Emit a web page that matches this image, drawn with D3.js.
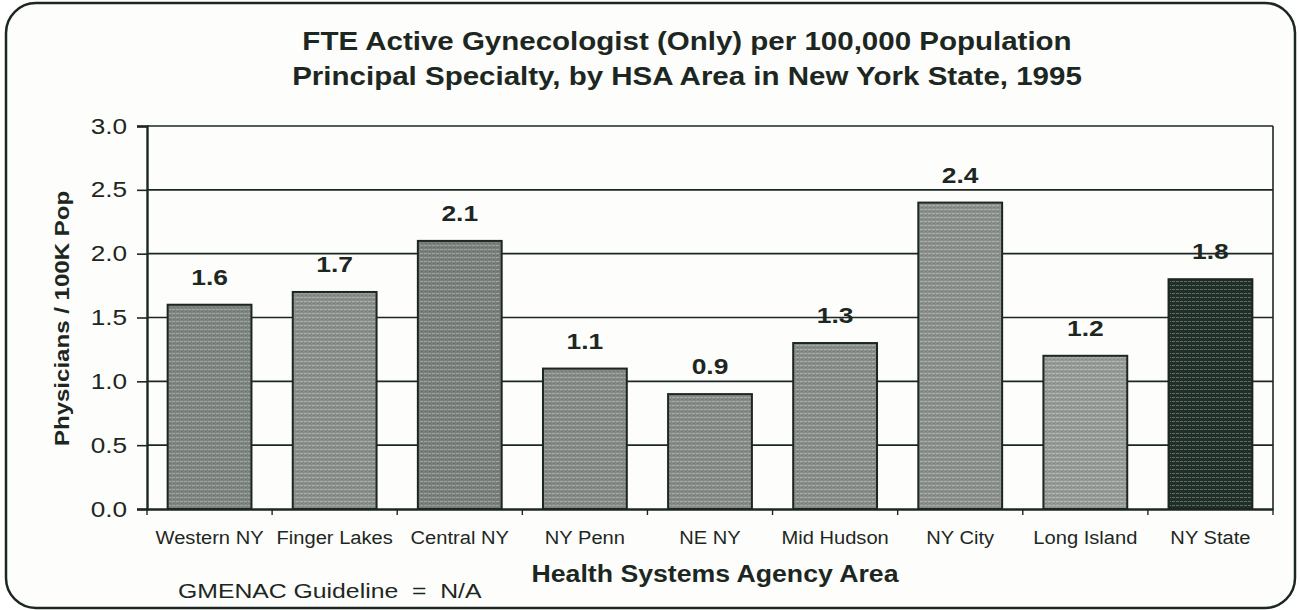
<!DOCTYPE html>
<html>
<head>
<meta charset="utf-8">
<script src="https://cdn.jsdelivr.net/npm/d3@7/dist/d3.min.js"></script>
<style>
  html, body { margin: 0; padding: 0; background: #ffffff; }
  svg { display: block; font-family: "Liberation Sans", Arial, Helvetica, sans-serif; }
</style>
</head>
<body>
<svg id="chart" width="1300" height="610"></svg>
<script>
// HSA areas and FTE gynecologists per 100,000 population
const categories = ["Western NY", "Finger Lakes", "Central NY", "NY Penn", "NE NY",
                    "Mid Hudson", "NY City", "Long Island", "NY State"];
const values = [1.6, 1.7, 2.1, 1.1, 0.9, 1.3, 2.4, 1.2, 1.8];
const valueLabels = ["1.6", "1.7", "2.1", "1.1", "0.9", "1.3", "2.4", "1.2", "1.8"];
const yTicks = [0, 0.5, 1.0, 1.5, 2.0, 2.5, 3.0];

const titleLines = ["FTE Active Gynecologist (Only) per 100,000 Population",
                    "Principal Specialty, by HSA Area in New York State, 1995"];
const yTitle = "Physicians / 100K Pop";
const xTitle = "Health Systems Agency Area";
const footnote = "GMENAC Guideline  =  N/A";

// styling
const ink = "#1d2722";
const barFills = ["#7f8581", "#8a8f8c", "#7a807c", "#858a87", "#868b88",
                  "#888d8a", "#8b908d", "#979b98", "#22302a"];

// stretch glyphs horizontally about each label's anchor point (wide typeface)
function widen(sel, k) {
  sel.each(function () {
    const t = d3.select(this);
    const ax = +t.attr("x") || 0, ay = +t.attr("y") || 0;
    t.attr("transform", `translate(${ax},${ay}) scale(${k},1) translate(${-ax},${-ay})`);
  });
}

const svg = d3.select("#chart");
const W = 1300, H = 610;
const m = { left: 147, right: 27, top: 126, bottom: 101 };

// outer rounded frame
svg.append("rect")
  .attr("x", 6).attr("y", 3).attr("width", W - 11).attr("height", H - 5)
  .attr("rx", 30).attr("ry", 30)
  .attr("fill", "#fdfdfc").attr("stroke", ink).attr("stroke-width", 2.5);

// bar texture: light horizontal dotted rows over a grey fill
const defs = svg.append("defs");
const pat = defs.append("pattern")
  .attr("id", "texture").attr("patternUnits", "userSpaceOnUse")
  .attr("width", 4).attr("height", 4);
pat.append("rect").attr("x", 0).attr("y", 1).attr("width", 3).attr("height", 1)
  .attr("fill", "#ffffff").attr("opacity", 0.28);
pat.append("rect").attr("x", 1).attr("y", 3).attr("width", 2).attr("height", 1)
  .attr("fill", "#000000").attr("opacity", 0.12);

const x = d3.scaleBand().domain(categories)
  .range([m.left, W - m.right]).paddingInner(0.33).paddingOuter(0.165);
const y = d3.scaleLinear().domain([0, 3]).range([H - m.bottom, m.top]);

// title
const title = svg.append("g").selectAll("text").data(titleLines).join("text")
  .attr("x", 687).attr("y", (d, i) => 50 + i * 35)
  .attr("text-anchor", "middle")
  .attr("font-weight", "bold").attr("font-size", 26).attr("fill", ink)
  .text(d => d);
widen(title, 1.135);

// horizontal gridlines
svg.append("g").selectAll("line").data(yTicks.filter(t => t > 0)).join("line")
  .attr("x1", m.left).attr("x2", W - m.right)
  .attr("y1", d => y(d)).attr("y2", d => y(d))
  .attr("stroke", ink).attr("stroke-width", 1.6);

// right border of plot
svg.append("line")
  .attr("x1", W - m.right).attr("x2", W - m.right)
  .attr("y1", y(3)).attr("y2", y(0))
  .attr("stroke", ink).attr("stroke-width", 1.6);

// y axis
const yAxis = d3.axisLeft(y).tickValues(yTicks).tickFormat(d3.format(".1f"))
  .tickSize(10).tickPadding(10);
const gy = svg.append("g").attr("transform", `translate(${m.left},0)`).call(yAxis);
gy.select(".domain").attr("stroke", ink).attr("stroke-width", 2.4);
gy.selectAll(".tick line").attr("stroke", ink).attr("stroke-width", 1.6);
gy.selectAll(".tick text").attr("font-size", 22).attr("fill", ink)
  .attr("font-family", "Liberation Sans, Arial, sans-serif");
widen(gy.selectAll(".tick text"), 1.19);

// bars
const bars = svg.append("g");
bars.selectAll("rect.bar").data(values).join("rect").attr("class", "bar")
  .attr("x", (d, i) => x(categories[i])).attr("width", x.bandwidth())
  .attr("y", d => y(d)).attr("height", d => y(0) - y(d))
  .attr("fill", (d, i) => barFills[i])
  .attr("stroke", ink).attr("stroke-width", 2);
bars.selectAll("rect.tex").data(values).join("rect").attr("class", "tex")
  .attr("x", (d, i) => x(categories[i]) + 1.5).attr("width", x.bandwidth() - 3)
  .attr("y", d => y(d) + 1.5).attr("height", d => y(0) - y(d) - 3)
  .attr("fill", "url(#texture)");

// value labels
const vl = svg.append("g").selectAll("text").data(values).join("text")
  .attr("x", (d, i) => x(categories[i]) + x.bandwidth() / 2)
  .attr("y", d => y(d) - 20)
  .attr("text-anchor", "middle")
  .attr("font-weight", "bold").attr("font-size", 22).attr("fill", ink)
  .text((d, i) => valueLabels[i]);
widen(vl, 1.2);

// x axis with ticks on category boundaries
const xAxis = d3.axisBottom(x).tickSize(0).tickPadding(22);
const gx = svg.append("g").attr("transform", `translate(0,${y(0)})`).call(xAxis);
gx.select(".domain").attr("stroke", ink).attr("stroke-width", 2.4);
gx.selectAll(".tick text").attr("font-size", 19).attr("fill", ink)
  .attr("font-family", "Liberation Sans, Arial, sans-serif");
widen(gx.selectAll(".tick text"), 1.06);
const step = x.step();
const bounds = d3.range(categories.length + 1).map(i => m.left + i * step);
gx.selectAll("line.sep").data(bounds).join("line").attr("class", "sep")
  .attr("x1", d => d).attr("x2", d => d).attr("y1", 0).attr("y2", 6)
  .attr("stroke", ink).attr("stroke-width", 1.4);

// axis titles
svg.append("text")
  .attr("transform", `translate(69,${(y(0) + y(3)) / 2 + 1}) rotate(-90) scale(1.145,1)`)
  .attr("text-anchor", "middle")
  .attr("font-weight", "bold").attr("font-size", 21).attr("fill", ink)
  .text(yTitle);
const xt = svg.append("text")
  .attr("x", 715).attr("y", 582).attr("text-anchor", "middle")
  .attr("font-weight", "bold").attr("font-size", 23).attr("fill", ink)
  .text(xTitle);
widen(xt, 1.16);

// footnote
const fn = svg.append("text")
  .attr("x", 178).attr("y", 598).attr("xml:space", "preserve")
  .style("white-space", "pre")
  .attr("font-size", 21).attr("fill", ink)
  .text(footnote);
widen(fn, 1.18);
</script>
</body>
</html>
